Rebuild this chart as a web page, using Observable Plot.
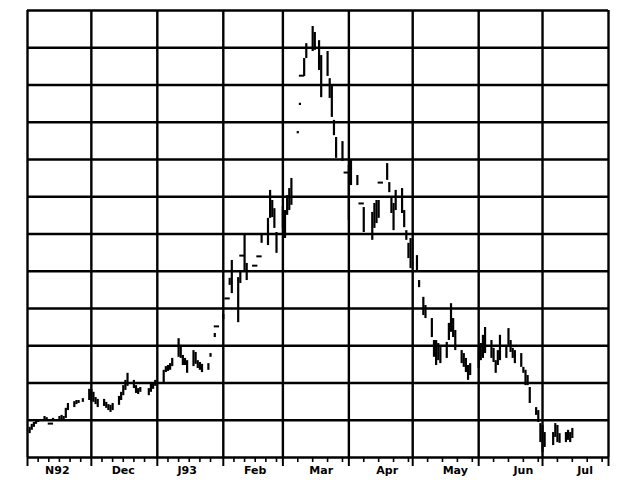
<!DOCTYPE html>
<html>
<head>
<meta charset="utf-8">
<script src="https://cdn.jsdelivr.net/npm/d3@7"></script>
<script src="https://cdn.jsdelivr.net/npm/@observablehq/plot@0.6"></script>
<style>
  html, body { margin: 0; padding: 0; background: #fff; }
  #chart svg { display: block; }
</style>
</head>
<body>
<div id="chart"></div>
<script>
// ---- daily high/low bars (values in grid units, one grid line = 1) ----
const dates = [
  "1992-11-02","1992-11-03","1992-11-04","1992-11-05","1992-11-06","1992-11-09","1992-11-10","1992-11-13","1992-11-16","1992-11-17","1992-11-18","1992-11-19","1992-11-20","1992-11-23","1992-11-24","1992-11-25","1992-11-27","1992-11-30",
  "1992-12-01","1992-12-02","1992-12-03","1992-12-04","1992-12-07","1992-12-08","1992-12-09","1992-12-10","1992-12-11","1992-12-14","1992-12-15","1992-12-16","1992-12-17","1992-12-18","1992-12-21","1992-12-22","1992-12-23","1992-12-24","1992-12-28","1992-12-29","1992-12-30","1992-12-31",
  "1993-01-04","1993-01-05","1993-01-06","1993-01-07","1993-01-08","1993-01-11","1993-01-12","1993-01-13","1993-01-14","1993-01-15","1993-01-18","1993-01-19","1993-01-20","1993-01-21","1993-01-22","1993-01-25","1993-01-26","1993-01-28",
  "1993-02-01","1993-02-04","1993-02-05","1993-02-08","1993-02-09","1993-02-11","1993-02-12","1993-02-19","1993-02-22","1993-02-23","1993-02-24","1993-02-25","1993-02-26",
  "1993-03-01","1993-03-02","1993-03-03","1993-03-04","1993-03-05","1993-03-08","1993-03-09","1993-03-11","1993-03-12","1993-03-15","1993-03-16","1993-03-18","1993-03-19","1993-03-22","1993-03-23","1993-03-24","1993-03-25","1993-03-26","1993-03-29",
  "1993-04-01","1993-04-02","1993-04-05","1993-04-08","1993-04-12","1993-04-13","1993-04-14","1993-04-15","1993-04-19","1993-04-20","1993-04-21","1993-04-22","1993-04-23","1993-04-26","1993-04-27","1993-04-28","1993-04-29","1993-04-30",
  "1993-05-03","1993-05-04","1993-05-06","1993-05-07","1993-05-10","1993-05-11","1993-05-12","1993-05-13","1993-05-14","1993-05-17","1993-05-18","1993-05-19","1993-05-20","1993-05-21","1993-05-24","1993-05-25","1993-05-26","1993-05-27","1993-05-28",
  "1993-06-01","1993-06-02","1993-06-03","1993-06-04","1993-06-07","1993-06-08","1993-06-09","1993-06-10","1993-06-11","1993-06-14","1993-06-15","1993-06-16","1993-06-17","1993-06-18","1993-06-21","1993-06-22","1993-06-23","1993-06-24","1993-06-25","1993-06-28","1993-06-29","1993-06-30",
  "1993-07-01","1993-07-02","1993-07-06","1993-07-07","1993-07-08","1993-07-09","1993-07-12","1993-07-13","1993-07-14","1993-07-15"
];
const highs = [
  0.81,0.89,0.94,0.97,1.02,1.10,1.07,1.05,1.10,1.13,1.10,1.32,1.45,1.50,1.53,1.53,1.58,1.83,
  1.83,1.75,1.61,1.56,1.56,1.48,1.42,1.40,1.45,1.64,1.75,1.93,2.07,2.26,2.07,1.93,1.85,1.88,1.85,1.96,2.01,2.07,
  2.34,2.44,2.47,2.52,2.66,3.19,3.01,2.74,2.66,2.60,2.87,2.82,2.60,2.55,2.50,2.52,2.79,3.33,
  3.84,4.81,5.29,4.83,4.97,5.96,5.21,5.96,6.42,7.17,6.90,6.68,6.04,
  6.74,6.63,7.03,7.22,7.49,8.75,9.51,10.71,11.11,11.57,11.41,11.19,10.79,10.90,10.17,9.99,9.05,8.59,8.48,
  7.84,7.97,7.57,6.71,6.58,6.82,6.90,6.90,7.89,7.38,6.98,6.82,7.17,7.22,6.63,6.09,5.75,5.88,
  5.42,4.75,4.30,4.08,3.73,3.14,3.14,3.06,2.95,3.09,3.60,4.13,3.73,3.41,2.87,2.79,2.66,2.47,2.52,
  2.95,3.06,3.28,3.49,3.14,2.93,2.60,2.87,3.28,3.01,3.46,3.14,2.93,2.87,2.79,2.42,2.34,2.20,1.88,1.34,1.26,0.91,
  0.86,0.67,0.67,0.91,0.86,0.64,0.67,0.73,0.67,0.78
];
const lows = [
  0.64,0.73,0.81,0.89,0.94,1.02,0.99,0.97,1.02,1.02,0.99,1.05,1.26,1.34,1.42,1.45,1.48,1.53,
  1.50,1.48,1.42,1.34,1.37,1.32,1.26,1.21,1.26,1.40,1.53,1.66,1.80,1.91,1.85,1.72,1.69,1.75,1.66,1.75,1.83,1.91,
  2.01,2.28,2.31,2.34,2.44,2.69,2.66,2.47,2.47,2.26,2.44,2.50,2.39,2.34,2.28,2.34,2.69,3.22,
  3.70,4.62,4.40,3.62,4.67,5.02,4.75,5.75,5.69,6.42,6.44,6.15,5.48,
  6.15,5.88,6.50,6.63,6.77,8.69,9.45,10.23,10.71,10.90,10.93,10.39,9.66,10.23,9.64,9.13,8.64,8.03,7.95,
  6.36,7.30,7.30,6.04,5.83,6.15,6.28,6.42,7.44,7.11,6.55,6.09,6.63,6.55,6.17,5.83,5.34,5.07,
  5.02,4.56,3.81,3.73,3.22,2.69,2.47,2.60,2.52,2.66,3.14,3.36,3.22,2.87,2.52,2.42,2.28,2.07,2.20,
  2.39,2.60,2.66,2.79,2.66,2.55,2.26,2.47,2.60,2.66,3.01,2.82,2.66,2.52,2.42,2.26,1.93,1.93,1.45,1.13,0.94,0.40,
  0.13,0.27,0.32,0.54,0.40,0.38,0.40,0.46,0.40,0.51
];

// ---- single-price days drawn as short dashes ----
const dashDates  = ["1992-11-12","1993-01-29","1993-02-03","1993-02-10","1993-02-16","1993-02-18","1993-03-10","1993-03-31","1993-04-07","1993-04-16"];
const dashValues = [0.91, 3.52, 4.27, 5.42, 5.15, 5.40, 10.25, 7.65, 6.82, 7.38];

// ---- grid & axis ----
const gridLevels  = [0,1,2,3,4,5,6,7,8,9,10,11,12];
const monthStarts = ["1992-11-01","1992-12-01","1993-01-01","1993-02-01","1993-03-01","1993-04-01","1993-05-01","1993-06-01","1993-07-01","1993-08-01"];
const monthLabels = ["N92","Dec","J93","Feb","Mar","Apr","May","Jun","Jul"];
const labelDates  = ["1992-11-15","1992-12-16","1993-01-15","1993-02-16","1993-03-19","1993-04-19","1993-05-21","1993-06-22","1993-07-21"];
const earlyTickDays = [6, 11, 16, 21, 26];   // Nov–Feb minor ticks
const lateTickDays  = [8, 15, 22, 29];       // Mar–Jul minor ticks

const parse = d3.utcParse("%Y-%m-%d");
const bars = dates.map((d, i) => ({date: parse(d), hi: highs[i], lo: lows[i]}));
const dashes = dashDates.map((d, i) => ({date: parse(d), v: dashValues[i]}));
const months = monthStarts.map(parse);
const minorTicks = [];
months.slice(0, -1).forEach((m, i) => {
  const days = i < 4 ? earlyTickDays : lateTickDays;
  days.forEach(day => minorTicks.push(new Date(Date.UTC(m.getUTCFullYear(), m.getUTCMonth(), day))));
});
const labels = labelDates.map((d, i) => ({date: parse(d), text: monthLabels[i]}));

const chart = Plot.plot({
  width: 620,
  height: 485,
  marginLeft: 27,
  marginRight: 12,
  marginTop: 10,
  marginBottom: 28,
  style: {background: "#fff", fontFamily: "'DejaVu Sans', 'Liberation Sans', sans-serif"},
  x: {type: "utc", domain: [months[0], months[months.length - 1]], axis: null},
  y: {domain: [0, 12], axis: null},
  marks: [
    Plot.ruleY(gridLevels, {stroke: "#000", strokeWidth: 2.6}),
    Plot.ruleX(months, {stroke: "#000", strokeWidth: 2.4}),
    Plot.axisX({ticks: minorTicks, tickSize: 5, tickFormat: () => "", stroke: "#000", strokeWidth: 1.6}),
    Plot.axisX({ticks: months, tickSize: 9, tickFormat: () => "", stroke: "#000", strokeWidth: 2}),
    Plot.text(labels, {x: "date", y: 0, text: "text", dy: 13, fontSize: 11, fontWeight: "bold", fill: "#000", textAnchor: "middle", lineAnchor: "middle"}),
    Plot.ruleX(bars, {x: "date", y1: "lo", y2: "hi", stroke: "#000", strokeWidth: 2.2}),
    Plot.ruleY(dashes, {y: "v", x1: d => d3.utcHour.offset(d.date, -30), x2: d => d3.utcHour.offset(d.date, 30), stroke: "#000", strokeWidth: 2})
  ]
});
document.getElementById("chart").append(chart);
</script>
</body>
</html>
